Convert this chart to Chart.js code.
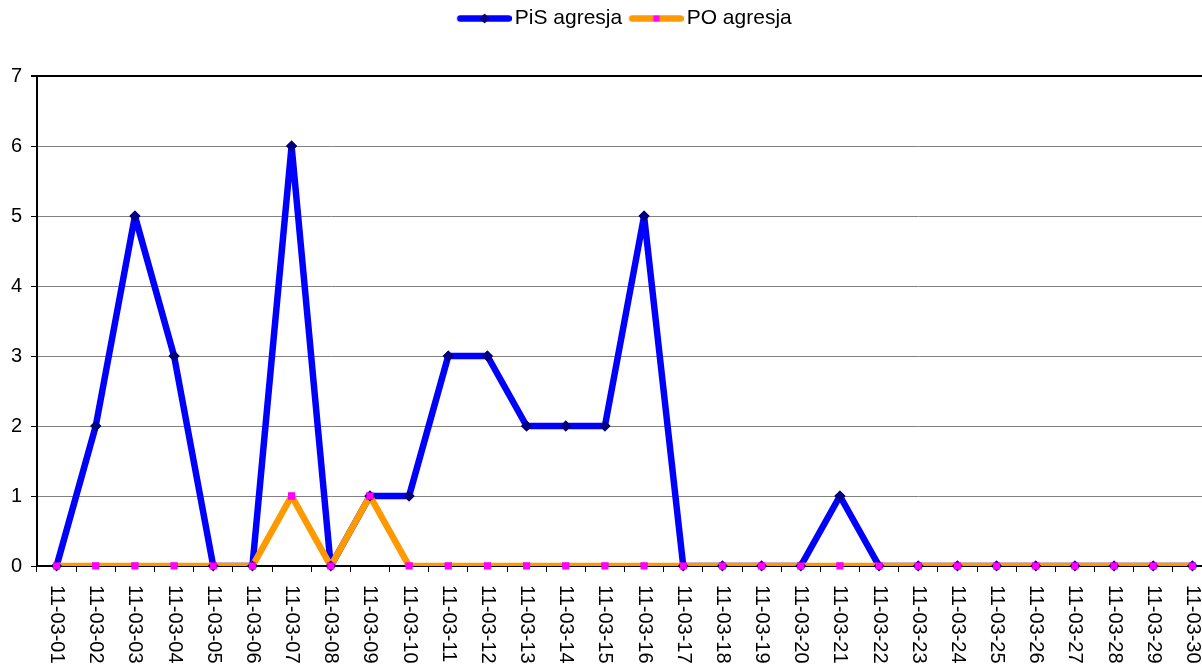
<!DOCTYPE html>
<html>
<head>
<meta charset="utf-8">
<script src="https://cdn.jsdelivr.net/npm/chart.js@4/dist/chart.umd.min.js"></script>
<style>
  html, body { margin: 0; padding: 0; background: #fff; overflow: hidden; }
  canvas { display: block; }
</style>
</head>
<body>
<canvas id="chart" width="1244" height="668"></canvas>
<script>
const categories = [
  '11-03-01', '11-03-02', '11-03-03', '11-03-04', '11-03-05', '11-03-06',
  '11-03-07', '11-03-08', '11-03-09', '11-03-10', '11-03-11', '11-03-12',
  '11-03-13', '11-03-14', '11-03-15', '11-03-16', '11-03-17', '11-03-18',
  '11-03-19', '11-03-20', '11-03-21', '11-03-22', '11-03-23', '11-03-24',
  '11-03-25', '11-03-26', '11-03-27', '11-03-28', '11-03-29', '11-03-30'
]
const pisAgresja = [0, 2, 5, 3, 0, 0, 6, 0, 1, 1, 3, 3, 2, 2, 2, 5, 0, 0, 0, 0, 1, 0, 0, 0, 0, 0, 0, 0, 0, 0]
const poAgresja = [0, 0, 0, 0, 0, 0, 1, 0, 1, 0, 0, 0, 0, 0, 0, 0, 0, 0, 0, 0, 0, 0, 0, 0, 0, 0, 0, 0, 0, 0]
const yMin = 0
const yMax = 7

const FONT = 'Arial, "Liberation Sans", sans-serif'
const SAMPLE_BOX = 47

// Legend sample: thick line with the marker in the middle.
// The image is centred on the legend box, so the left part is left empty.
function legendSample(lineColor, markerColor, diamond) {
  const c = document.createElement('canvas')
  c.width = SAMPLE_BOX + 15
  c.height = 11
  const ctx = c.getContext('2d')
  ctx.strokeStyle = lineColor
  ctx.lineWidth = 6.5
  ctx.lineCap = 'round'
  ctx.beginPath()
  ctx.moveTo(10.5, 5.5)
  ctx.lineTo(c.width - 3, 5.5)
  ctx.stroke()
  const mid = (7.5 + c.width) / 2
  ctx.fillStyle = markerColor
  if (diamond) {
    ctx.beginPath()
    ctx.moveTo(mid, 0.5)
    ctx.lineTo(mid + 5, 5.5)
    ctx.lineTo(mid, 10.5)
    ctx.lineTo(mid - 5, 5.5)
    ctx.closePath()
    ctx.fill()
  } else {
    ctx.fillRect(mid - 3, 2.5, 6, 6)
  }
  return c
}

const xLabels = {
  id: 'xLabels',
  afterDraw(chart) {
    const {ctx} = chart
    const x = chart.scales.x
    ctx.save()
    ctx.font = '20px ' + FONT
    ctx.fillStyle = '#000'
    ctx.textAlign = 'left'
    ctx.textBaseline = 'middle'
    categories.forEach((label, i) => {
      ctx.save()
      ctx.translate(x.getPixelForValue(i), x.top + 19)
      ctx.rotate(Math.PI / 2)
      ctx.fillText(label, 0, 0)
      ctx.restore()
    })
    ctx.restore()
  }
}

// Markers go above every line (lines first, then all markers).
const markersOnTop = {
  id: 'markersOnTop',
  afterDatasetsDraw(chart) {
    const {ctx} = chart
    chart.data.datasets.forEach((ds, i) => {
      chart.getDatasetMeta(i).data.forEach((pt) => pt.draw(ctx, chart.chartArea))
    })
  }
}

const samples = [
  legendSample('#0000ff', '#000080', true),
  legendSample('#ff9900', '#ff00ff', false)
]

new Chart(document.getElementById('chart'), {
  type: 'line',
  data: {
    labels: categories,
    datasets: [
      {
        label: 'PiS agresja',
        data: pisAgresja,
        borderColor: '#0000ff',
        backgroundColor: '#000080',
        borderWidth: 6.5,
        borderJoinStyle: 'round',
        pointStyle: 'rectRot',
        pointRadius: 5.5,
        pointBorderWidth: 0,
        pointBackgroundColor: '#000080',
        order: 1
      },
      {
        label: 'PO agresja',
        data: poAgresja,
        borderColor: '#ff9900',
        backgroundColor: '#ff00ff',
        borderWidth: 6.5,
        borderJoinStyle: 'round',
        pointStyle: 'rect',
        pointRadius: 5,
        pointBorderWidth: 0,
        pointBackgroundColor: '#ff00ff',
        order: 0
      }
    ]
  },
  options: {
    responsive: false,
    animation: false,
    events: [],
    layout: {
      padding: {top: 1, right: 32, bottom: 0, left: 0}
    },
    elements: {
      line: {tension: 0, fill: false}
    },
    plugins: {
      legend: {
        position: 'top',
        fullSize: false,
        weight: 3000,
        labels: {
          font: {family: FONT, size: 21},
          color: '#000',
          usePointStyle: true,
          pointStyleWidth: SAMPLE_BOX,
          padding: 7,
          generateLabels: (chart) => chart.data.datasets.map((ds, i) => ({
            text: ds.label,
            pointStyle: samples[i],
            fillStyle: ds.borderColor,
            strokeStyle: ds.borderColor,
            lineWidth: 0,
            hidden: false,
            datasetIndex: i
          }))
        }
      },
      // empty title used as a spacer under the legend
      title: {
        display: true,
        text: '',
        weight: 500,
        font: {size: 1, lineHeight: 1},
        padding: {top: 0, bottom: 36}
      },
      tooltip: {enabled: false}
    },
    scales: {
      x: {
        type: 'category',
        offset: true,
        grid: {
          offset: true,
          drawOnChartArea: false,
          drawTicks: true,
          tickLength: 6,
          color: '#000',
          lineWidth: 1
        },
        border: {color: '#000', width: 2},
        ticks: {display: false},
        afterFit: (scale) => { scale.height = 102 }
      },
      y: {
        min: yMin,
        max: yMax,
        ticks: {
          stepSize: 1,
          font: {family: FONT, size: 20},
          color: '#000',
          padding: 9
        },
        grid: {
          color: (ctx) => ctx.tick && ctx.tick.value === yMax ? '#000' : '#808080',
          lineWidth: (ctx) => ctx.tick && ctx.tick.value === yMax ? 2 : 1,
          tickColor: '#000',
          tickLength: 6
        },
        border: {color: '#000', width: 2},
        afterFit: (scale) => { scale.width = 37 }
      }
    }
  },
  plugins: [xLabels, markersOnTop]
})
</script>
</body>
</html>
